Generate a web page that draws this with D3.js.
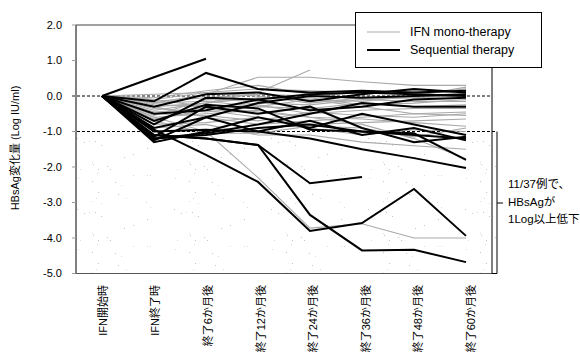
<!DOCTYPE html>
<html>
<head>
<meta charset="utf-8">
<script src="https://cdn.jsdelivr.net/npm/d3@7"></script>
<style>
  html, body { margin: 0; padding: 0; background: #fff; }
  svg { display: block; font-family: "Liberation Sans", Arial, "Noto Sans CJK JP", sans-serif; }
</style>
</head>
<body>
<svg id="chart" width="580" height="352"></svg>
<script>
// Time points after the start of IFN treatment
const categories = ["IFN開始時", "IFN終了時", "終了6か月後", "終了12か月後", "終了24か月後", "終了36か月後", "終了48か月後", "終了60か月後"];

// Y axis ticks (Log IU/ml)
const yTicks = [2, 1, 0, -1, -2, -3, -4, -5];
const yTickLabels = ["2.0", "1.0", "0.0", "-1.0", "-2.0", "-3.0", "-4.0", "-5.0"];

// HBsAg change per patient, IFN mono-therapy group
const monoSeries = [
  [0, -0.6, -1.0, -2.3, -3.72, -3.6, -4.0, -4.0],
  [0, -0.2, 0.05, 0.53, 0.53, 0.4, 0.3, 0.3],
  [0, -0.3, -0.2, 0.1, 0.73],
  [0, -0.1, 0.1, 0.2, 0.15, 0.1, 0.05, 0.2],
  [0, -0.4, -0.2, -0.05, -0.1, -0.3, -0.5, -0.45],
  [0, -0.25, -0.3, -0.2, -0.25, -0.1, -0.15, -0.15],
  [0, -0.6, -0.5, -0.4, -0.6, -0.8, -1.2, -1.77],
  [0, -0.8, -0.75, -0.6, -0.9, -1.1, -0.95, -1.0],
  [0, -0.15, -0.05, 0.05, 0.0, 0.1, 0.15, 0.1],
  [0, -0.5, -0.55, -0.7, -0.45, -0.55, -0.6, -0.5],
  [0, 0.05, 0.1, 0.0, -0.2, -0.05, -0.05, 0.0],
  [0, -0.35, -0.45, -0.3, -0.35, -0.2, -0.3, -0.25],
  [0, -0.7, -1.05, -1.05, -0.85, -0.9, -1.15, -0.9],
  [0, -0.2, -0.15, -0.3, -0.1, -0.15, 0.0, 0.25],
  [0, -0.45, -0.35, -0.25, -0.5, -0.4, -0.35, -0.35],
  [0, -0.1, -0.3, -0.45, -0.6, -0.65, -0.75, -0.85],
  [0, -0.9, -0.8, -1.1, -1.1, -1.3, -1.4, -1.5],
  [0, -0.55, -0.1, -0.15, -0.05, -0.25, -0.2, -0.1],
  [0, -0.3, -0.6, -0.8, -0.7, -0.6, -0.5, -0.55],
  [0, -0.65, -0.4, -0.6, -0.8, -0.75, -0.7, -0.65],
  [0, -0.05, 0.15, 0.3, 0.05, -0.1, -0.05, 0.05]
];

// HBsAg change per patient, sequential therapy group
const seqSeries = [
  [0, 0.53, 1.05],
  [0, -0.15, 0.65, 0.2, 0.1, 0.15, 0.1, 0.15],
  [0, -1.1, -1.2, -1.38, -2.46, -2.28],
  [0, -1.1, -1.2, -1.38, -3.35, -4.35, -4.33, -4.68],
  [0, -0.95, -1.66, -2.42, -3.8, -3.58, -2.62, -3.94],
  [0, -1.0, -0.95, -1.0, -1.2, -1.5, -1.75, -2.03],
  [0, -1.25, -0.6, -0.2, 0.0, -0.05, 0.0, 0.05],
  [0, -1.3, -1.0, -0.6, -0.9, -0.5, -0.8, -1.1],
  [0, -1.15, -0.3, -0.5, -0.3, -0.9, -1.3, -1.15],
  [0, -0.5, -0.4, -0.1, -0.4, -0.3, -0.1, -0.05],
  [0, -0.9, -0.6, -1.0, -0.7, -1.1, -0.9, -1.25],
  [0, -0.3, 0.05, 0.1, -0.15, 0.05, 0.2, 0.1],
  [0, -1.2, -1.05, -0.8, -0.5, -0.2, -0.3, -0.3],
  [0, -0.7, -0.25, -0.35, -0.95, -1.0, -1.05, -1.8],
  [0, -1.2, -1.1, -0.9, -0.8, -1.0, -1.1, -1.2],
  [0, -0.8, -0.05, -0.1, 0.05, 0.1, 0.05, 0.0]
];

const legendItems = ["IFN mono-therapy", "Sequential therapy"];
const noteLines = ["11/37例で、", "HBsAgが", "1Log以上低下"];
const refLevels = [0, -1];

const svg = d3.select("#chart");
const plot = { left: 76, right: 492, top: 25, bottom: 273.5 };

const x = d3.scaleBand().domain(categories).range([plot.left, plot.right]);
const cx = c => x(c) + x.bandwidth() / 2;
const y = d3.scaleLinear().domain([-5, 2]).range([plot.bottom, plot.top]);

// Sparse light speckle texture for the "1 log or more" zone
const defs = svg.append("defs");
const pat = defs.append("pattern")
  .attr("id", "speckle").attr("patternUnits", "userSpaceOnUse")
  .attr("width", 97).attr("height", 71);
let seed = 11;
const next = () => (seed = (seed * 16807) % 2147483647) / 2147483647;
for (let i = 0; i < 30; i++) {
  pat.append("rect")
    .attr("x", Math.floor(next() * 97)).attr("y", Math.floor(next() * 71))
    .attr("width", 1).attr("height", 1)
    .attr("fill", next() > 0.5 ? "#c4c4c4" : "#dcdcdc");
}
svg.append("rect")
  .attr("x", plot.left + 1).attr("y", y(-1) + 6)
  .attr("width", 497 - plot.left).attr("height", plot.bottom - y(-1) - 7)
  .attr("fill", "url(#speckle)");

// Reference levels at 0 and -1 log
svg.selectAll("line.ref").data(refLevels).join("line")
  .attr("class", "ref")
  .attr("x1", plot.left - 4).attr("x2", d => d === -1 ? 497 : plot.right)
  .attr("y1", d => y(d)).attr("y2", d => y(d))
  .attr("stroke", "#000").attr("stroke-width", 1)
  .attr("stroke-dasharray", "3,2");

// Frame: left axis, bottom, top and right edges
const frame = svg.append("g").attr("stroke", "#000").attr("stroke-width", 1).attr("fill", "none");
frame.append("line").attr("x1", plot.left).attr("x2", plot.left).attr("y1", plot.top).attr("y2", plot.bottom);
frame.append("line").attr("x1", plot.left).attr("x2", plot.right).attr("y1", plot.bottom).attr("y2", plot.bottom).attr("stroke", "#555");
frame.append("line").attr("x1", plot.left).attr("x2", 355).attr("y1", plot.top).attr("y2", plot.top).attr("stroke", "#444");
frame.append("line").attr("x1", plot.right).attr("x2", plot.right).attr("y1", 68).attr("y2", plot.bottom);

// Bracket marking the group below -1 log
frame.append("path")
  .attr("d", `M${plot.right},${plot.bottom} H497 V${y(-1)}`);
frame.append("line").attr("x1", 497).attr("x2", 503).attr("y1", 203).attr("y2", 203);

// Y axis ticks and labels
const yAxis = svg.append("g");
yAxis.selectAll("line").data(yTicks).join("line")
  .attr("x1", plot.left - 4).attr("x2", plot.left)
  .attr("y1", d => y(d)).attr("y2", d => y(d))
  .attr("stroke", "#999");
yAxis.selectAll("text").data(yTicks).join("text")
  .attr("x", 62).attr("y", d => y(d)).attr("dy", "0.35em")
  .attr("text-anchor", "end").attr("font-size", 11).attr("fill", "#000")
  .text((d, i) => yTickLabels[i]);

svg.append("text")
  .attr("transform", `translate(15,148) rotate(-90)`)
  .attr("text-anchor", "middle").attr("dy", "0.35em")
  .attr("font-size", 11).attr("fill", "#000")
  .text("HBsAg変化量 (Log IU/ml)");

// X category labels, rotated
svg.append("g").selectAll("text").data(categories).join("text")
  .attr("transform", (d, i) => `translate(${cx(d) + 1 + i * 0.6},285) rotate(-90)`)
  .attr("text-anchor", "end").attr("dy", "0.35em")
  .attr("font-size", 11).attr("fill", "#000")
  .text(d => d);

// Patient lines
const line = d3.line()
  .x((v, i) => cx(categories[i]))
  .y(v => y(v));

svg.append("g").selectAll("path").data(monoSeries).join("path")
  .attr("d", line).attr("fill", "none")
  .attr("stroke", "#a9a9a9").attr("stroke-width", 1.1);

svg.append("g").selectAll("path").data(seqSeries).join("path")
  .attr("d", line).attr("fill", "none")
  .attr("stroke", "#000").attr("stroke-width", 2)
  .attr("stroke-linejoin", "miter");

// Legend
const lg = svg.append("g");
lg.append("rect").attr("x", 355.5).attr("y", 12.5).attr("width", 186).attr("height", 55)
  .attr("fill", "#fff").attr("stroke", "#000");
lg.selectAll("line").data(legendItems).join("line")
  .attr("x1", 367).attr("x2", 400)
  .attr("y1", (d, i) => 32 + i * 18).attr("y2", (d, i) => 32 + i * 18)
  .attr("stroke", (d, i) => i === 0 ? "#a9a9a9" : "#000")
  .attr("stroke-width", (d, i) => i === 0 ? 1.1 : 2);
lg.selectAll("text").data(legendItems).join("text")
  .attr("x", 410).attr("y", (d, i) => 32 + i * 18).attr("dy", "0.35em")
  .attr("font-size", 12.5).attr("fill", "#000")
  .text(d => d);

// Note beside the bracket
svg.append("g").selectAll("text").data(noteLines).join("text")
  .attr("x", 508).attr("y", (d, i) => 184 + i * 17.5).attr("dy", "0.35em")
  .attr("font-size", 11.5).attr("fill", "#000")
  .text(d => d);
</script>
</body>
</html>
